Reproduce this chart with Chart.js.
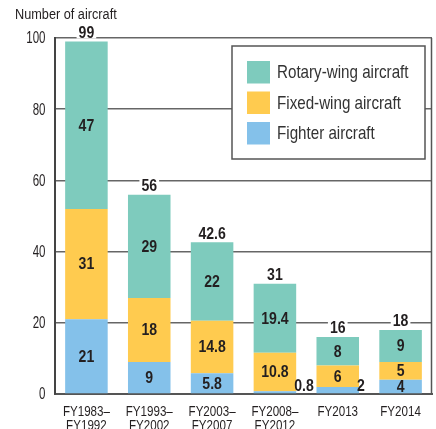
<!DOCTYPE html>
<html>
<head>
<meta charset="utf-8">
<script src="https://cdn.jsdelivr.net/npm/chart.js@4/dist/chart.umd.min.js"></script>
<style>
html, body { margin: 0; padding: 0; background: #fff; }
canvas { display: block; }
</style>
</head>
<body>
<canvas id="aircraftChart" width="436" height="429"></canvas>
<script>

const categories = [
    ["FY1983–", "FY1992"],
    ["FY1993–", "FY2002"],
    ["FY2003–", "FY2007"],
    ["FY2008–", "FY2012"],
    ["FY2013"],
    ["FY2014"]
];

const fighter = [21, 9, 5.8, 0.8, 2, 4];
const fixedWing = [31, 18, 14.8, 10.8, 6, 5];
const rotaryWing = [47, 29, 22, 19.4, 8, 9];
const totals = [99, 56, 42.6, 31, 16, 18];

const yMin = 0;
const yMax = 100;
const yStep = 20;

const FONT = '"Liberation Sans", Arial, sans-serif';
const TEXT = "#231f20";

const colores = {
    fighter: "#84c1ea",
    fixed: "#ffcb4f",
    rotary: "#7ecbbd"
};

// narrow text: Liberation Sans squeezed horizontally
function texto(ctx, str, x, y, size, opts = {}) {

    const squeeze = opts.squeeze || 0.82;

    ctx.save();
    ctx.translate(x, y);
    ctx.scale(squeeze, 1);
    ctx.font = `${opts.weight || "normal"} ${size}px ${FONT}`;
    ctx.fillStyle = opts.color || TEXT;
    ctx.textAlign = opts.align || "center";
    ctx.textBaseline = "middle";
    ctx.fillText(str, 0, 0);
    ctx.restore();
}

function anchoTexto(ctx, str, size, opts = {}) {

    ctx.save();
    ctx.font = `${opts.weight || "normal"} ${size}px ${FONT}`;
    const w = ctx.measureText(str).width * (opts.squeeze || 0.82);
    ctx.restore();
    return w;
}

const extrasPlugin = {

    id: "extras",

    beforeDatasetsDraw(chart) {

        const ctx = chart.ctx;
        const area = chart.chartArea;

        // right border of the frame
        ctx.save();
        ctx.strokeStyle = "#555";
        ctx.lineWidth = 1.5;
        ctx.beginPath();
        ctx.moveTo(area.right - 0.5, area.top);
        ctx.lineTo(area.right - 0.5, area.bottom);
        ctx.stroke();
        ctx.restore();
    },

    afterDatasetsDraw(chart) {

        const ctx = chart.ctx;
        const area = chart.chartArea;
        const xScale = chart.scales.x;
        const yScale = chart.scales.y;

        const bold = { weight: "bold", squeeze: 0.88 };

        // title
        texto(ctx, "Number of aircraft", 15, 15, 15.5, { align: "left" });

        // y tick labels
        yScale.ticks.forEach((t, i) => {
            texto(ctx, String(t.value), 45.5, yScale.getPixelForTick(i) + 1, 16,
                { align: "right", squeeze: 0.72 });
        });

        // x tick labels
        chart.data.labels.forEach((lab, i) => {
            const x = xScale.getPixelForTick(i);
            lab.forEach((line, k) => {
                texto(ctx, line, x, area.bottom + 17.5 + k * 14, 14.5, { squeeze: 0.8 });
            });
        });

        // segment labels
        chart.data.datasets.forEach((ds, i) => {

            const meta = chart.getDatasetMeta(i);

            meta.data.forEach((bar, j) => {

                const value = String(ds.data[j]);
                const h = Math.abs(bar.base - bar.y);

                if (h < 12) {
                    texto(ctx, value, bar.x + bar.width / 2 - 2, area.bottom - 7, 16,
                        { weight: "bold", squeeze: 0.88, align: "left" });
                } else {
                    texto(ctx, value, bar.x, (bar.y + bar.base) / 2 + 1, 16, bold);
                }
            });
        });

        // totals above the bars
        const topMeta = chart.getDatasetMeta(chart.data.datasets.length - 1);

        topMeta.data.forEach((bar, j) => {

            const str = String(totals[j]);
            const w = anchoTexto(ctx, str, 16, bold);
            const cy = bar.y - 9;

            ctx.fillStyle = "#fff";
            ctx.fillRect(bar.x - w / 2 - 2, cy - 6, w + 4, 12);

            texto(ctx, str, bar.x, cy + 1, 16, bold);
        });

        // legend
        const lx = 232;
        const ly = 46;
        const lw = 193;
        const lh = 113;

        ctx.save();
        ctx.fillStyle = "#fff";
        ctx.fillRect(lx, ly, lw, lh);
        ctx.strokeStyle = "#555";
        ctx.lineWidth = 1.5;
        ctx.strokeRect(lx, ly, lw, lh);
        ctx.restore();

        const items = [
            { text: "Rotary-wing aircraft", color: colores.rotary },
            { text: "Fixed-wing aircraft", color: colores.fixed },
            { text: "Fighter aircraft", color: colores.fighter }
        ];

        items.forEach((item, k) => {

            const sy = 61 + k * 30.5;

            ctx.fillStyle = item.color;
            ctx.fillRect(247, sy, 23, 22.5);

            texto(ctx, item.text, 277, sy + 12, 18.5, { align: "left", color: "#333" });
        });
    }
};

const ctx = document.getElementById("aircraftChart");

new Chart(ctx, {

    type: "bar",

    data: {

        labels: categories,

        datasets: [
            {
                label: "Fighter aircraft",
                data: fighter,
                backgroundColor: colores.fighter
            },
            {
                label: "Fixed-wing aircraft",
                data: fixedWing,
                backgroundColor: colores.fixed
            },
            {
                label: "Rotary-wing aircraft",
                data: rotaryWing,
                backgroundColor: colores.rotary
            }
        ]
    },

    options: {

        responsive: false,
        animation: false,
        devicePixelRatio: 1,

        datasets: {
            bar: {
                barPercentage: 0.677,
                categoryPercentage: 1,
                borderWidth: 0
            }
        },

        layout: {
            padding: { top: 38, right: 4, left: 0, bottom: 0 }
        },

        plugins: {
            legend: { display: false },
            tooltip: { enabled: false }
        },

        scales: {

            x: {
                stacked: true,
                grid: { display: false },
                border: { display: true, color: "#555", width: 2 },
                ticks: { display: false },
                afterFit(scale) {
                    scale.height = 35;
                }
            },

            y: {
                stacked: true,
                min: yMin,
                max: yMax,
                ticks: {
                    display: false,
                    stepSize: yStep
                },
                grid: {
                    color: "#666",
                    lineWidth: 1.5,
                    drawTicks: false
                },
                border: { display: true, color: "#444", width: 2 },
                afterFit(scale) {
                    scale.width = 55;
                }
            }
        }
    },

    plugins: [extrasPlugin]
});
</script>
</body>
</html>
